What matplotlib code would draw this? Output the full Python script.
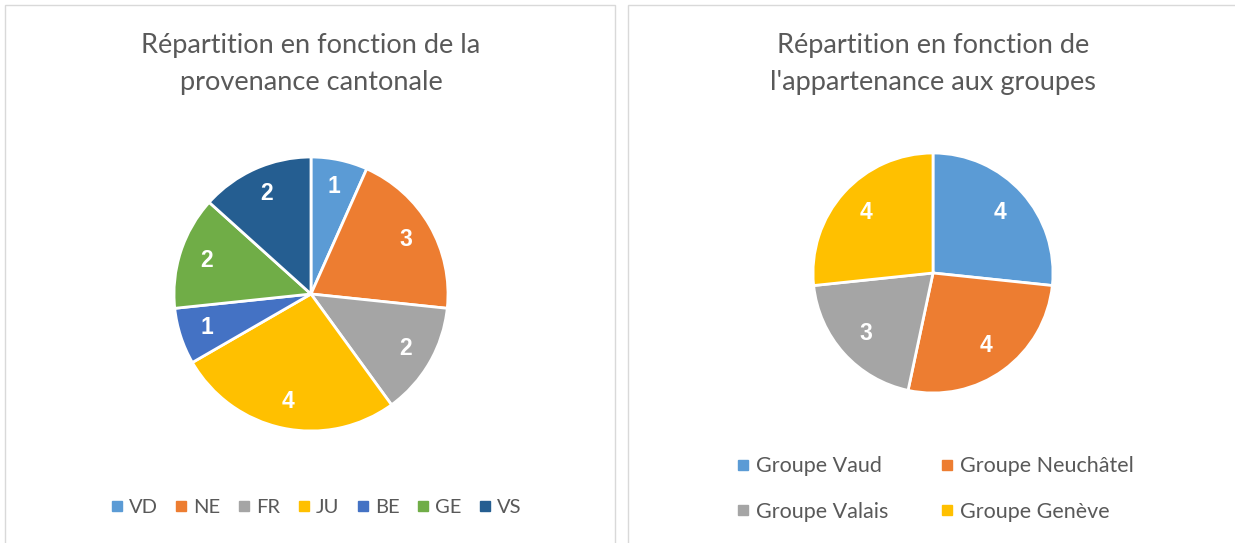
import matplotlib
matplotlib.use("Agg")
import matplotlib.pyplot as plt
from matplotlib.patches import Rectangle
from matplotlib.lines import Line2D

plt.rcParams['font.family'] = ['Lato', 'DejaVu Sans']

# data
cantons = ["VD", "NE", "FR", "JU", "BE", "GE", "VS"]
canton_counts = [1, 3, 2, 4, 1, 2, 2]
canton_colors = ["#5B9BD5", "#ED7D31", "#A5A5A5", "#FFC000", "#4472C4", "#70AD47", "#255E91"]

groupes = ["Groupe Vaud", "Groupe Neuchâtel", "Groupe Valais", "Groupe Genève"]
groupe_counts = [4, 4, 3, 4]
groupe_colors = ["#5B9BD5", "#ED7D31", "#A5A5A5", "#FFC000"]

W, H = 1235, 543
fig = plt.figure(figsize=(W / 100, H / 100), dpi=100)
TXT = "#595959"


def px_axes(cx, cy, r):
    return fig.add_axes([(cx - r) / W, (H - cy - r) / H, 2 * r / W, 2 * r / H])


# panel borders
for x0, x1 in [(5, 615), (628, 1245)]:
    fig.patches.append(Rectangle((x0 / W, -0.05), (x1 - x0) / W, (H - 5) / H + 0.05,
                                 transform=fig.transFigure, fill=False,
                                 edgecolor="#D9D9D9", lw=1))


def draw_pie(ax, counts, colors, pctdist):
    ax.pie(counts, colors=colors, startangle=90, counterclock=False, radius=1,
           labels=None, autopct=lambda p: f"{round(p * sum(counts) / 100):d}",
           pctdistance=pctdist,
           wedgeprops=dict(edgecolor="white", linewidth=2),
           textprops=dict(color="white", fontsize=16.5, fontweight="bold",
                          family=["Liberation Sans", "DejaVu Sans"]))
    ax.set_xlim(-1, 1)
    ax.set_ylim(-1, 1)
    ax.axis("off")


ax1 = px_axes(311, 294, 137)
draw_pie(ax1, canton_counts, canton_colors, 0.8)
ax2 = px_axes(933, 273, 120)
draw_pie(ax2, groupe_counts, groupe_colors, 0.75)

# titles
fig.text(311 / W, 1 - 64 / H, "Répartition en fonction de la\nprovenance cantonale",
         ha="center", va="center", fontsize=19.5, color=TXT, linespacing=1.6)
fig.text(933 / W, 1 - 64 / H, "Répartition en fonction de\nl'appartenance aux groupes",
         ha="center", va="center", fontsize=19.5, color=TXT, linespacing=1.6)


def handles(colors):
    return [Line2D([], [], marker="s", linestyle="", markersize=6.5,
                   markerfacecolor=c, markeredgecolor=c) for c in colors]


fig.legend(handles(canton_colors), cantons, loc="center", ncol=7,
           bbox_to_anchor=(316 / W, 1 - 507 / H), frameon=False, fontsize=14.5,
           labelcolor=TXT, handlelength=0.6, handletextpad=0.3, columnspacing=0.87)

# legend fills column by column; reorder so rows read Vaud/Neuchâtel, Valais/Genève
order = [0, 2, 1, 3]
fig.legend([handles(groupe_colors)[i] for i in order], [groupes[i] for i in order],
           loc="center", ncol=2,
           bbox_to_anchor=(935 / W, 1 - 489 / H), frameon=False, fontsize=15.5,
           labelcolor=TXT, handlelength=0.6, handletextpad=0.3, columnspacing=2.4,
           labelspacing=1.2)

plt.savefig("out.png", dpi=100)
